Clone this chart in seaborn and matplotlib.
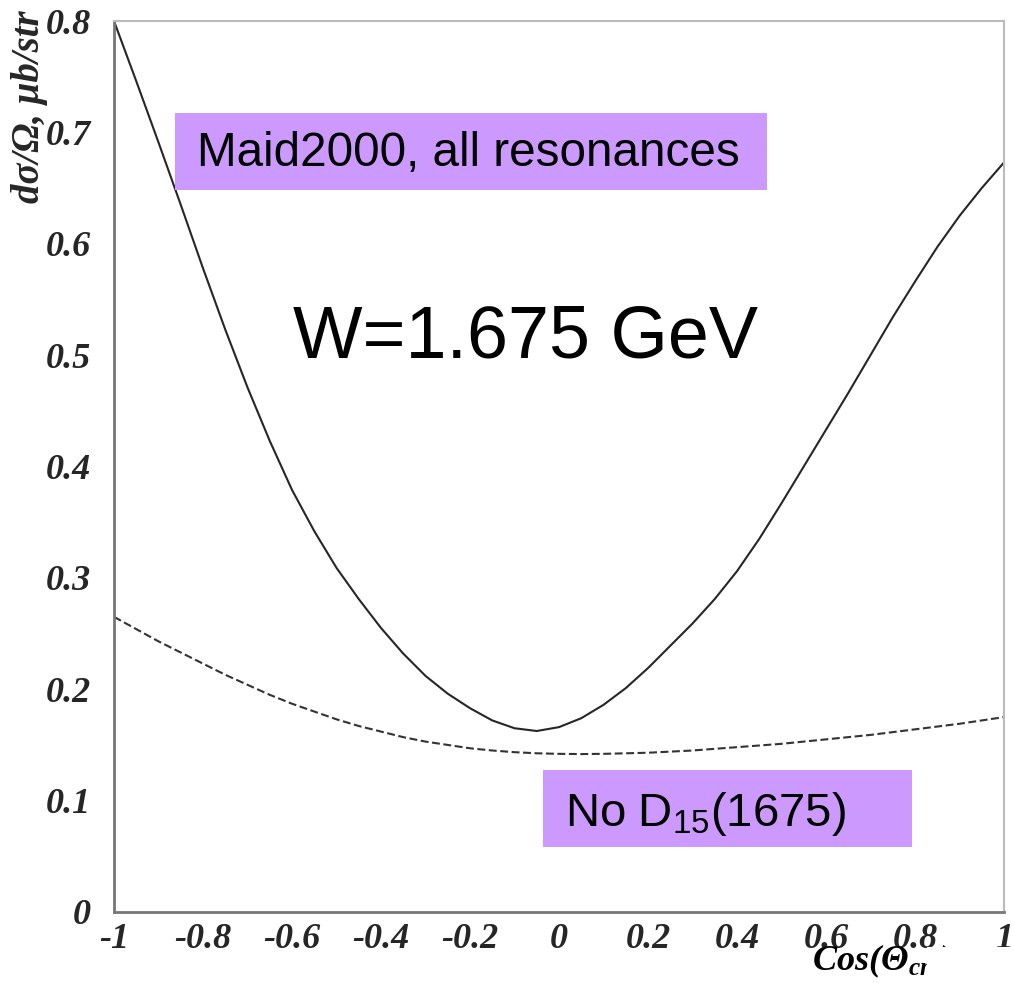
import numpy as np
import pandas as pd
import matplotlib
matplotlib.use("Agg")
import matplotlib.pyplot as plt
from matplotlib.patches import Rectangle
from matplotlib.ticker import MultipleLocator
from matplotlib.font_manager import FontProperties
import seaborn as sns

# ---- data ----
cos_theta = [-1.0, -0.95, -0.9, -0.85, -0.8, -0.75, -0.7, -0.65, -0.6, -0.55,
             -0.5, -0.45, -0.4, -0.35, -0.3, -0.25, -0.2, -0.15, -0.1, -0.05,
             0.0, 0.05, 0.1, 0.15, 0.2, 0.25, 0.3, 0.35, 0.4, 0.45,
             0.5, 0.55, 0.6, 0.65, 0.7, 0.75, 0.8, 0.85, 0.9, 0.95, 1.0]
all_resonances = [0.800, 0.746, 0.691, 0.635, 0.578, 0.523, 0.471, 0.423, 0.379, 0.342,
                  0.309, 0.281, 0.255, 0.232, 0.212, 0.196, 0.183, 0.172, 0.165, 0.1625,
                  0.166, 0.174, 0.186, 0.201, 0.219, 0.239, 0.259, 0.281, 0.306, 0.335,
                  0.367, 0.400, 0.433, 0.466, 0.500, 0.534, 0.566, 0.597, 0.625, 0.650, 0.673]
no_d15 = [0.265, 0.254, 0.243, 0.233, 0.223, 0.213, 0.204, 0.195, 0.187, 0.180,
          0.173, 0.167, 0.162, 0.157, 0.153, 0.150, 0.147, 0.145, 0.1435, 0.1425,
          0.142, 0.1418, 0.142, 0.1425, 0.143, 0.144, 0.145, 0.1465, 0.148, 0.1495,
          0.151, 0.153, 0.155, 0.157, 0.159, 0.1615, 0.164, 0.1665, 0.169, 0.172, 0.175]
x_ticks = [-1, -0.8, -0.6, -0.4, -0.2, 0, 0.2, 0.4, 0.6, 0.8, 1]
x_tick_labels = ["-1", "-0.8", "-0.6", "-0.4", "-0.2", "0", "0.2", "0.4", "0.6", "0.8", "1"]
y_ticks = [0, 0.1, 0.2, 0.3, 0.4, 0.5, 0.6, 0.7, 0.8]
y_tick_labels = ["0", "0.1", "0.2", "0.3", "0.4", "0.5", "0.6", "0.7", "0.8"]

df = pd.DataFrame({"x": cos_theta, "all": all_resonances, "nod15": no_d15})

sns.set_style("white")
plt.rcParams["font.family"] = ["Liberation Serif", "DejaVu Serif"]
plt.rcParams["mathtext.fontset"] = "custom"
plt.rcParams["mathtext.rm"] = "Liberation Serif:bold:italic"
plt.rcParams["mathtext.it"] = "Liberation Serif:bold:italic"
plt.rcParams["mathtext.bf"] = "Liberation Serif:bold:italic"
plt.rcParams["mathtext.sf"] = "Liberation Sans"

W, H = 1014, 983
fig = plt.figure(figsize=(W / 100, H / 100), dpi=100)
ax = fig.add_axes([114 / W, 1 - 912 / H, (1004 - 114) / W, (912 - 21) / H])

sns.lineplot(data=df, x="x", y="all", ax=ax, color="#262626", linewidth=1.5)
sns.lineplot(data=df, x="x", y="nod15", ax=ax, color="#333333", linewidth=1.5,
             linestyle=(0, (3.8, 1.7)))

ax.set_xlim(-1, 1)
ax.set_ylim(0, 0.8)
ax.set_xlabel("")
ax.set_ylabel("")

ax.set_xticks(x_ticks)
ax.set_xticklabels(x_tick_labels)
ax.set_yticks(y_ticks)
ax.set_yticklabels(y_tick_labels)
ax.xaxis.set_minor_locator(MultipleLocator(0.05))
ax.yaxis.set_minor_locator(MultipleLocator(0.02))

tick_fp = FontProperties(family="Liberation Serif", weight="bold", style="italic", size=26)
for lab in ax.get_xticklabels() + ax.get_yticklabels():
    lab.set_fontproperties(tick_fp)

ax.tick_params(axis="both", which="major", direction="in", length=13, width=1.2,
               color="#888888")
ax.tick_params(axis="both", which="minor", direction="in", length=7, width=1.0,
               color="#aaaaaa")
ax.tick_params(axis="x", which="both", top=False, pad=8)
ax.tick_params(axis="y", which="both", right=False, pad=16.5)

for side in ["left", "bottom"]:
    ax.spines[side].set_color("#777777")
    ax.spines[side].set_linewidth(2.0)
for side in ["top", "right"]:
    ax.spines[side].set_color("#bbbbbb")
    ax.spines[side].set_linewidth(1.5)

# y label
fig.text(30 / W, 1 - 10 / H, "dσ/Ω, μb/str", rotation=90, ha="center", va="top",
         family="Liberation Serif", weight="bold", style="italic", size=28)

# x label
fig.text(812 / W, 1 - 970 / H, r"$Cos(\Theta_{cm})$", ha="left", va="baseline",
         size=26, color="black")

purple = "#CC99FF"
# Maid box
fig.add_artist(Rectangle((175 / W, 1 - 190 / H), (767 - 175) / W, (190 - 113) / H,
                         transform=fig.transFigure, facecolor=purple, edgecolor="none"))
fig.text(197 / W, 1 - 154 / H, "Maid2000, all resonances", ha="left", va="center",
         family="Liberation Sans", size=34.3, color="black")

# No D15 box
fig.add_artist(Rectangle((543 / W, 1 - 847 / H), (912 - 543) / W, (847 - 770) / H,
                         transform=fig.transFigure, facecolor=purple, edgecolor="none"))
fig.text(565 / W, 1 - 826 / H, r"$\mathsf{No\ D_{15}(1675)}$", ha="left", va="baseline",
         size=34, color="black")

# W label
fig.text(293 / W, 1 - 338 / H, "W=1.675 GeV", ha="left", va="center",
         family="Liberation Sans", size=53, color="black")

# white patch in the lower-right corner as in the reference
fig.add_artist(Rectangle((927 / W, 0), (W - 927) / W, (H - 947) / H,
                         transform=fig.transFigure, facecolor="white", edgecolor="none",
                         zorder=10))

fig.savefig("out.png", dpi=100, facecolor="white")
